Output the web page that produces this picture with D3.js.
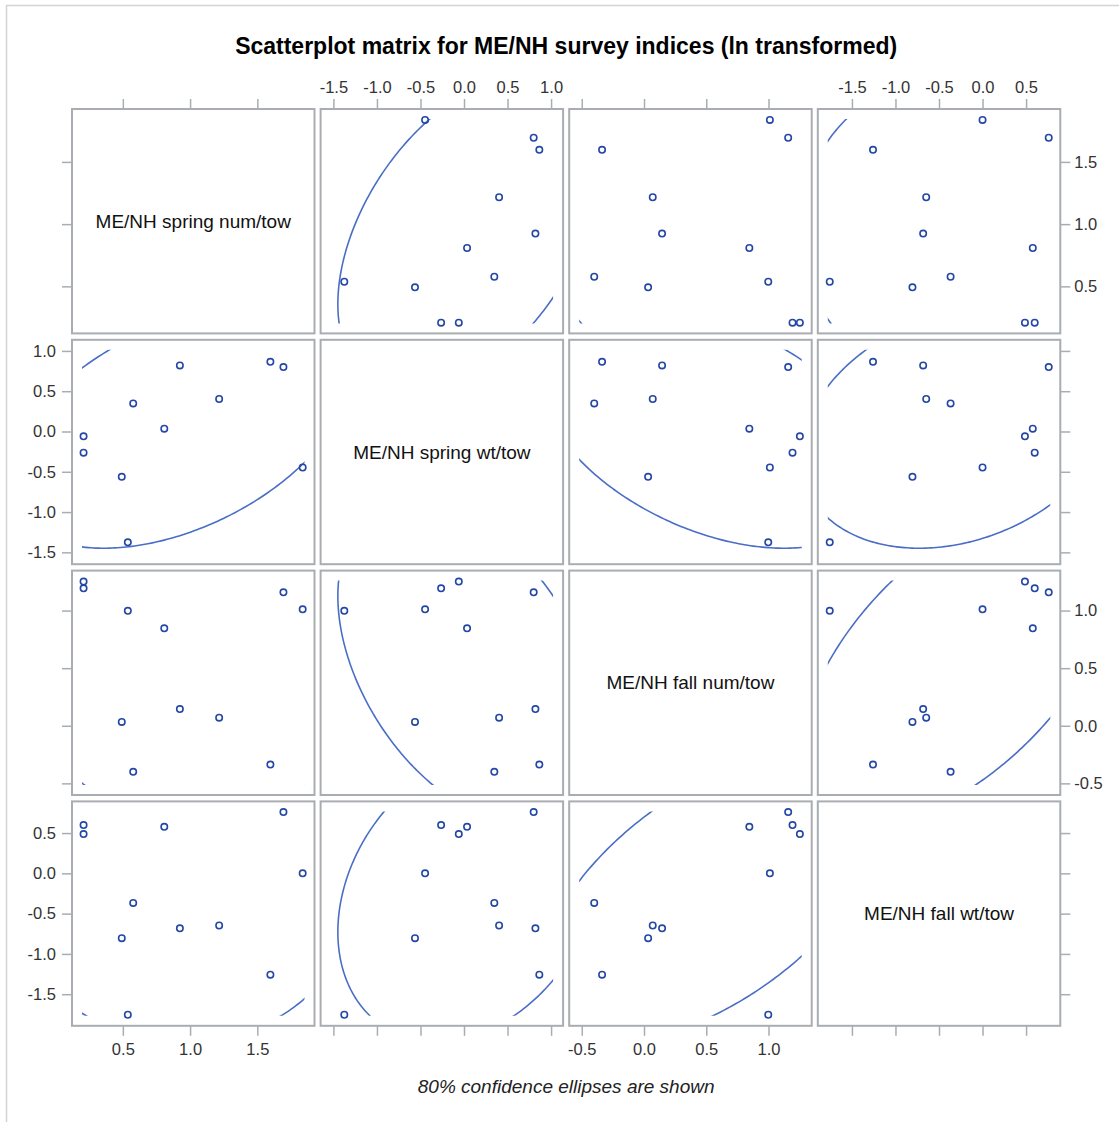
<!DOCTYPE html>
<html>
<head>
<meta charset="utf-8">
<script src="https://cdn.jsdelivr.net/npm/d3@7"></script>
<style>
  html, body { margin: 0; padding: 0; background: #fff; }
  svg { display: block; }
  text { font-family: "Liberation Sans", Arial, sans-serif; }
</style>
</head>
<body>
<svg id="chart" width="1119" height="1122"></svg>
<script>
// ---- data (ln-transformed survey indices, 11 years) ----
const varLabels = ["ME/NH spring num/tow", "ME/NH spring wt/tow", "ME/NH fall num/tow", "ME/NH fall wt/tow"];
const springNum = [1.837, 1.694, 1.597, 1.216, 0.924, 0.808, 0.577, 0.537, 0.492, 0.208, 0.208];
const springWt  = [-0.447, 0.800, 0.865, 0.403, 0.820, 0.035, 0.348, -1.375, -0.563, -0.263, -0.060];
const fallNum   = [1.011, 1.158, -0.337, 0.070, 0.145, 0.846, -0.400, 0.998, 0.033, 1.193, 1.252];
const fallWt    = [0.000, 0.760, -1.258, -0.647, -0.682, 0.577, -0.367, -1.755, -0.805, 0.599, 0.487];

// ---- axis ticks and ranges per variable ----
const ticksSpringNum = [0.5, 1.0, 1.5];
const ticksSpringWt  = [-1.5, -1.0, -0.5, 0.0, 0.5, 1.0];
const ticksFallNum   = [-0.5, 0.0, 0.5, 1.0];
const ticksFallWt    = [-1.5, -1.0, -0.5, 0.0, 0.5];
const axisMin = [0.122, -1.647, -0.601, -1.892];
const axisMax = [1.925, 1.138, 1.347, 0.893];

const title = "Scatterplot matrix for ME/NH survey indices (ln transformed)";
const footnote = "80% confidence ellipses are shown";
const ellipseAlpha = 0.2;

const series = [springNum, springWt, fallNum, fallWt];
const ticks = [ticksSpringNum, ticksSpringWt, ticksFallNum, ticksFallWt];

// ---- layout ----
const svg = d3.select("#chart");
const x0 = 72, colPitch = 248.6, W = 242.5;
const y0 = 109, rowPitch = 230.8, H = 224.4;
const inset = 10;
const tickLen = 10;
const frameColor = "#a9adb1";
const markerColor = "#2447a6";
const ellipseColor = "#4a6ec6";
const textColor = "#333333";
const fmt = d => d.toFixed(1);
const N = 4;

const xScales = series.map((s, j) => d3.scaleLinear().domain([axisMin[j], axisMax[j]]).range([x0 + j * colPitch, x0 + j * colPitch + W]));
const yScales = series.map((s, i) => d3.scaleLinear().domain([axisMin[i], axisMax[i]]).range([y0 + i * rowPitch + H, y0 + i * rowPitch]));

// outer image frame (cropped on right and bottom)
svg.append("path")
  .attr("d", "M6.5,1122 L6.5,5.5 L1119,5.5")
  .attr("fill", "none").attr("stroke", "#d4d4d4").attr("stroke-width", 1.5);

// title
svg.append("text")
  .attr("x", (x0 + x0 + 3 * colPitch + W) / 2).attr("y", 54)
  .attr("text-anchor", "middle")
  .attr("font-size", 23).attr("font-weight", "bold").attr("fill", "#000")
  .text(title);

// footnote
svg.append("text")
  .attr("x", (x0 + x0 + 3 * colPitch + W) / 2).attr("y", 1093)
  .attr("text-anchor", "middle")
  .attr("font-size", 19).attr("font-style", "italic").attr("fill", "#222")
  .text(footnote);

// prediction-ellipse helper
function ellipsePoints(xs, ys, alpha) {
  const n = xs.length;
  const mx = d3.mean(xs), my = d3.mean(ys);
  let sxx = 0, syy = 0, sxy = 0;
  for (let k = 0; k < n; k++) {
    sxx += (xs[k] - mx) ** 2; syy += (ys[k] - my) ** 2; sxy += (xs[k] - mx) * (ys[k] - my);
  }
  sxx /= (n - 1); syy /= (n - 1); sxy /= (n - 1);
  const nu = n - 2;
  const F = (nu / 2) * (Math.pow(alpha, -2 / nu) - 1);          // F(1-alpha; 2, n-2)
  const c = Math.sqrt(2 * (n - 1) * (n + 1) / (n * (n - 2)) * F);  // prediction ellipse radius
  const l11 = Math.sqrt(sxx), l21 = sxy / l11, l22 = Math.sqrt(Math.max(syy - l21 * l21, 0));
  const pts = [];
  for (let k = 0; k <= 360; k++) {
    const t = k / 360 * 2 * Math.PI;
    const u = Math.cos(t), v = Math.sin(t);
    pts.push([mx + c * l11 * u, my + c * (l21 * u + l22 * v)]);
  }
  return pts;
}

const defs = svg.append("defs");

for (let i = 0; i < N; i++) {
  for (let j = 0; j < N; j++) {
    const xs = xScales[j], ys = yScales[i];
    const px = x0 + j * colPitch, py = y0 + i * rowPitch;
    const g = svg.append("g");

    if (i === j) {
      g.append("text")
        .attr("x", px + W / 2).attr("y", py + H / 2)
        .attr("dy", "0.35em")
        .attr("text-anchor", "middle")
        .attr("font-size", 19).attr("fill", "#111")
        .text(varLabels[i]);
    } else {
      const clipId = `clip-${i}-${j}`;
      defs.append("clipPath").attr("id", clipId)
        .append("rect")
        .attr("x", px + inset).attr("y", py + inset)
        .attr("width", W - 2 * inset).attr("height", H - 2 * inset);

      const pts = ellipsePoints(series[j], series[i], ellipseAlpha);
      g.append("path")
        .attr("clip-path", `url(#${clipId})`)
        .attr("d", d3.line().x(d => xs(d[0])).y(d => ys(d[1]))(pts))
        .attr("fill", "none").attr("stroke", ellipseColor).attr("stroke-width", 1.6);

      g.selectAll("circle")
        .data(d3.range(series[i].length))
        .join("circle")
        .attr("cx", k => xs(series[j][k]))
        .attr("cy", k => ys(series[i][k]))
        .attr("r", 3.2)
        .attr("fill", "none").attr("stroke", markerColor).attr("stroke-width", 1.6);
    }

    // panel frame
    g.append("rect")
      .attr("x", px).attr("y", py).attr("width", W).attr("height", H)
      .attr("fill", "none").attr("stroke", frameColor).attr("stroke-width", 2);
  }
}

// axes: top & bottom ticks for each column, left & right ticks for each row
for (let j = 0; j < N; j++) {
  const showTop = (j % 2 === 1), showBottom = (j % 2 === 0);
  const top = d3.axisTop(xScales[j]).tickValues(ticks[j]).tickFormat(showTop ? fmt : () => "").tickSize(tickLen).tickPadding(6);
  const bottom = d3.axisBottom(xScales[j]).tickValues(ticks[j]).tickFormat(showBottom ? fmt : () => "").tickSize(tickLen).tickPadding(7);
  const gt = svg.append("g").attr("transform", `translate(0,${y0})`).call(top);
  const gb = svg.append("g").attr("transform", `translate(0,${y0 + 3 * rowPitch + H})`).call(bottom);
  [gt, gb].forEach(g => {
    g.select(".domain").remove();
    g.selectAll(".tick line").attr("stroke", frameColor).attr("stroke-width", 1.5);
    g.selectAll(".tick text").attr("font-size", 16.5).attr("fill", textColor).attr("font-family", "Liberation Sans, Arial, sans-serif");
  });
}
for (let i = 0; i < N; i++) {
  const showLeft = (i % 2 === 1), showRight = (i % 2 === 0);
  const left = d3.axisLeft(yScales[i]).tickValues(ticks[i]).tickFormat(showLeft ? fmt : () => "").tickSize(tickLen).tickPadding(6);
  const right = d3.axisRight(yScales[i]).tickValues(ticks[i]).tickFormat(showRight ? fmt : () => "").tickSize(tickLen).tickPadding(4);
  const gl = svg.append("g").attr("transform", `translate(${x0},0)`).call(left);
  const gr = svg.append("g").attr("transform", `translate(${x0 + 3 * colPitch + W},0)`).call(right);
  [gl, gr].forEach(g => {
    g.select(".domain").remove();
    g.selectAll(".tick line").attr("stroke", frameColor).attr("stroke-width", 1.5);
    g.selectAll(".tick text").attr("font-size", 16.5).attr("fill", textColor).attr("font-family", "Liberation Sans, Arial, sans-serif");
  });
}
</script>
</body>
</html>
